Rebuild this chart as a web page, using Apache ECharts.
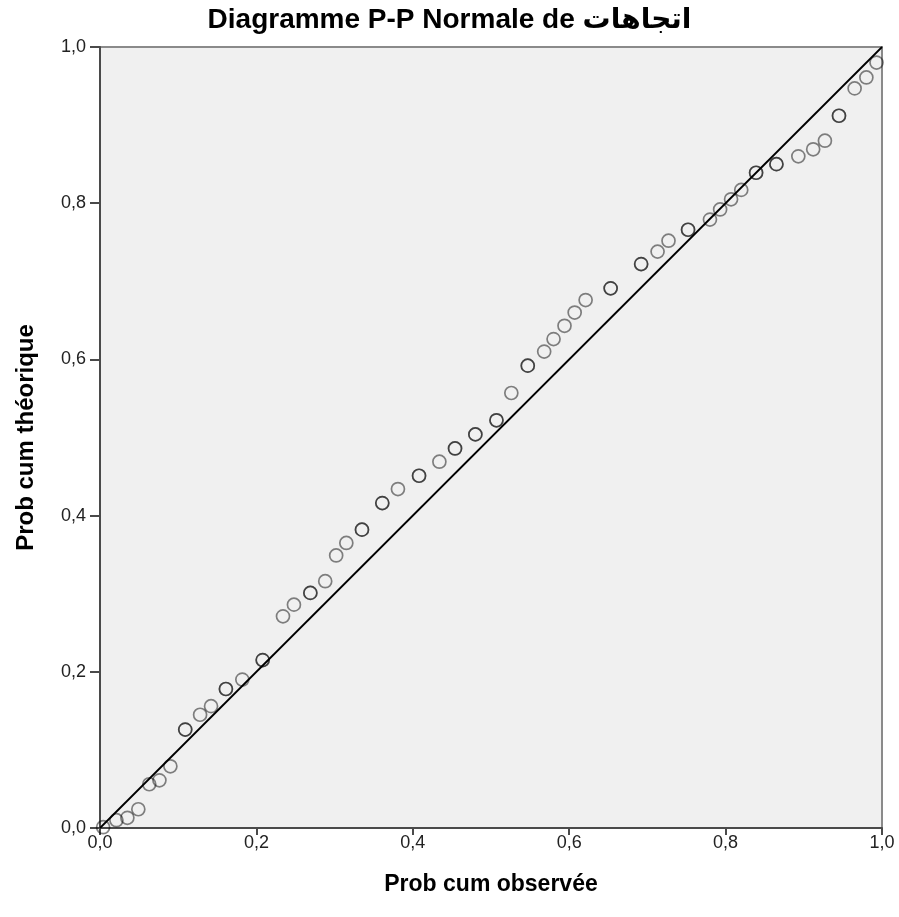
<!DOCTYPE html>
<html>
<head>
<meta charset="utf-8">
<script src="https://cdn.jsdelivr.net/npm/echarts@6/dist/echarts.min.js"></script>
<style>
html,body{margin:0;padding:0;background:#fff;}
#chart{width:899px;height:917px;}
</style>
</head>
<body>
<div id="chart"></div>
<script>
var titleText = 'Diagramme P-P Normale de اتجاهات';
var xAxisTitle = 'Prob cum observée';
var yAxisTitle = 'Prob cum théorique';

// observed cumulative probability
var observed = [0.004,0.021,0.035,0.049,0.063,0.076,0.090,0.109,0.128,0.142,0.161,0.182,0.208,0.234,0.248,0.269,0.288,0.302,0.315,0.335,0.361,0.381,0.408,0.434,0.454,0.480,0.507,0.526,0.547,0.568,0.580,0.594,0.607,0.621,0.653,0.692,0.713,0.727,0.752,0.780,0.793,0.807,0.820,0.839,0.865,0.893,0.912,0.927,0.945,0.965,0.980,0.993];
// expected (theoretical) cumulative probability
var expected = [0.001,0.010,0.013,0.024,0.056,0.061,0.079,0.126,0.145,0.156,0.178,0.190,0.215,0.271,0.286,0.301,0.316,0.349,0.365,0.382,0.416,0.434,0.451,0.469,0.486,0.504,0.522,0.557,0.592,0.610,0.626,0.643,0.660,0.676,0.691,0.722,0.738,0.752,0.766,0.779,0.792,0.805,0.817,0.839,0.850,0.860,0.869,0.880,0.912,0.947,0.961,0.980];
// number of overlapping cases at each point (ties drawn darker)
var counts = [1,1,1,1,1,1,1,2,1,1,2,1,2,1,1,2,1,1,1,2,2,1,2,1,2,2,2,1,2,1,1,1,1,1,2,2,1,1,2,1,1,1,1,2,2,1,1,1,2,1,1,1];
var refLine = [[0,0],[1,1]];

var pts = [];
for (var i = 0; i < observed.length; i++) {
  for (var k = 0; k < counts[i]; k++) pts.push([observed[i], expected[i]]);
}

var font = "'Liberation Sans', Arial, 'DejaVu Sans', sans-serif";
function fmt(v){ return v.toFixed(1).replace('.', ','); }

var chart = echarts.init(document.getElementById('chart'), null, {renderer:'canvas'});
chart.setOption({
  animation:false,
  backgroundColor:'#ffffff',
  title:{
    text:titleText, left:'center', top:1,
    textStyle:{fontFamily:font, fontSize:28, fontWeight:'bold', color:'#000'}
  },
  grid:{
    left:100, right:17, top:47, bottom:89,
    show:true, backgroundColor:'#f0f0f0', borderColor:'#8a8a8a', borderWidth:2
  },
  xAxis:{
    type:'value', min:0, max:1, interval:0.2,
    name:xAxisTitle, nameLocation:'middle', nameGap:45,
    nameTextStyle:{fontFamily:font, fontSize:23, fontWeight:'bold', color:'#000'},
    axisLine:{show:true, onZero:false, lineStyle:{color:'#4a4a4a', width:2}},
    axisTick:{show:true, inside:false, length:7, lineStyle:{color:'#4a4a4a', width:2}},
    axisLabel:{fontFamily:font, fontSize:18, color:'#222', margin:6, formatter:fmt},
    splitLine:{show:false}
  },
  yAxis:{
    type:'value', min:0, max:1, interval:0.2,
    name:yAxisTitle, nameLocation:'middle', nameGap:62, nameRotate:90,
    nameTextStyle:{fontFamily:font, fontSize:24, fontWeight:'bold', color:'#000'},
    axisLine:{show:true, onZero:false, lineStyle:{color:'#4a4a4a', width:2}},
    axisTick:{show:true, inside:false, length:10, lineStyle:{color:'#4a4a4a', width:2}},
    axisLabel:{fontFamily:font, fontSize:18, color:'#222', margin:14, formatter:fmt},
    splitLine:{show:false}
  },
  series:[
    {
      type:'line', data:refLine, symbol:'none', silent:true,
      lineStyle:{color:'#000', width:1.8}, z:2
    },
    {
      type:'scatter', data:pts, symbol:'circle', symbolSize:13,
      itemStyle:{color:'rgba(0,0,0,0)', borderColor:'rgba(0,0,0,0.6)', borderWidth:1.7},
      z:3
    }
  ]
});
</script>
</body>
</html>
